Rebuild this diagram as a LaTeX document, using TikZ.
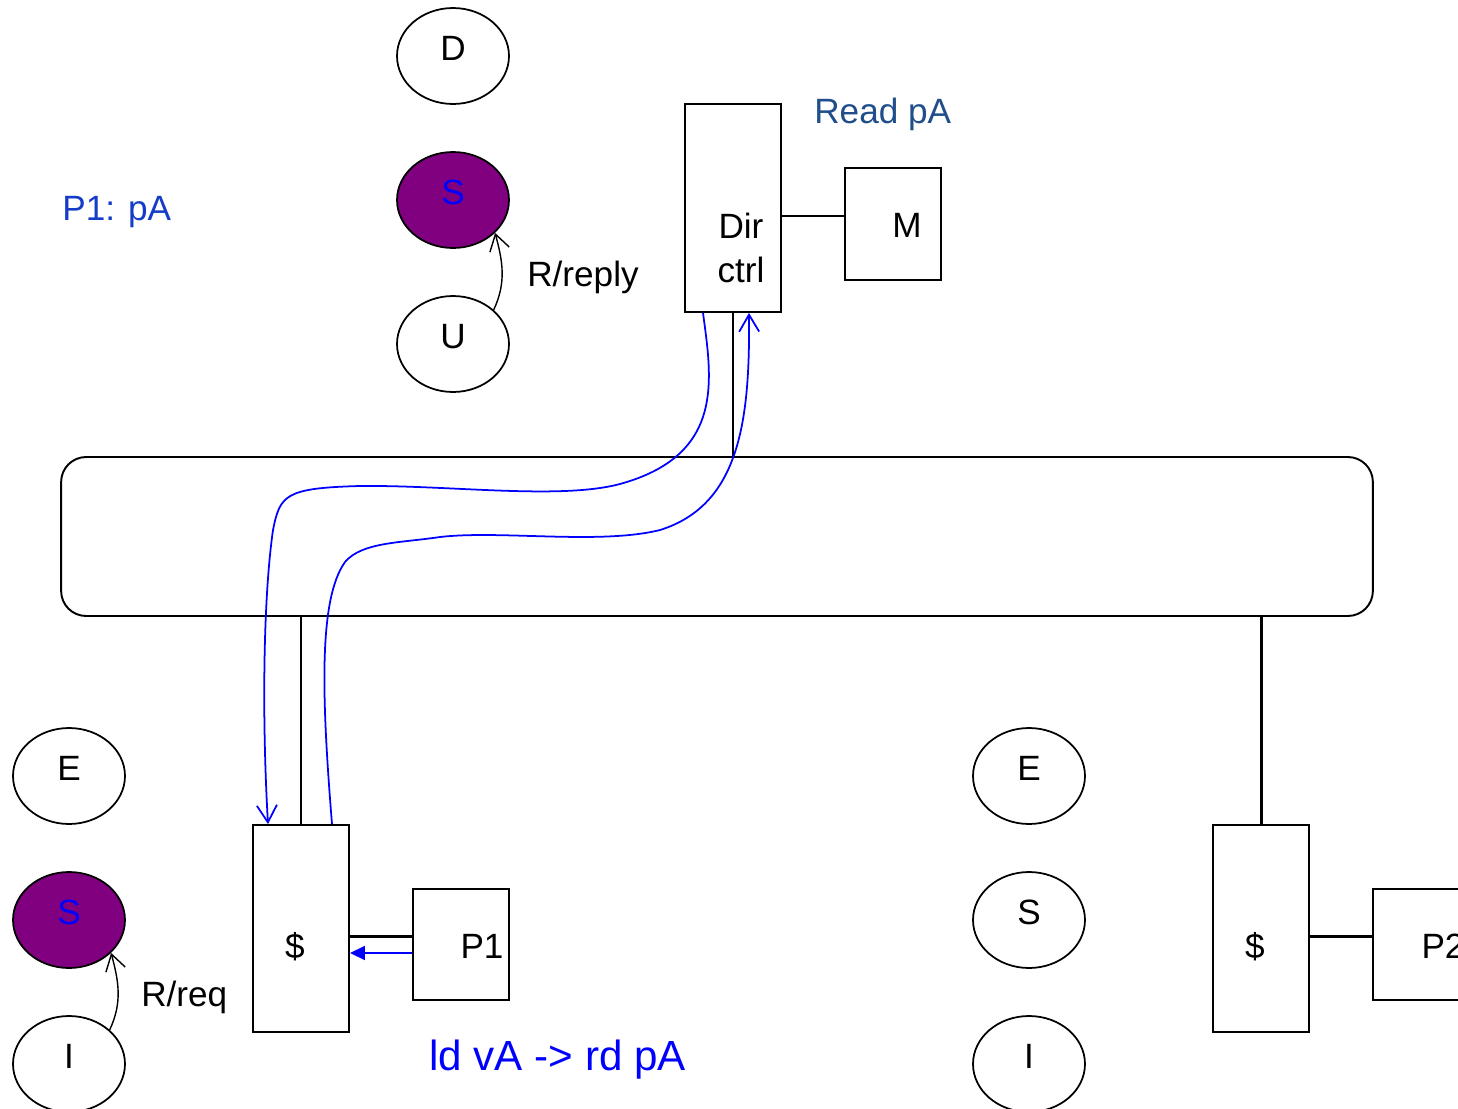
\documentclass[tikz,border=0pt]{standalone}
\usepackage{fontspec}
\setmainfont{Liberation Sans}
\usepackage{tikz}
\usetikzlibrary{positioning,arrows.meta,shapes.geometric,calc}
\usepackage{xcolor}
\definecolor{sharedpurple}{RGB}{128,0,128}
\definecolor{notenavy}{RGB}{31,78,138}
\definecolor{noteblue}{RGB}{20,60,200}

\begin{document}
\begin{tikzpicture}[x=0.02cm, y=-0.02cm,
    font=\fontsize{20}{25}\selectfont,
    state/.style={ellipse, draw, line width=1pt, minimum width=2.24cm, minimum height=1.92cm, inner sep=0pt, text depth=9pt},
    shared/.style={state, fill=sharedpurple, text=blue},
    unit/.style={rectangle, draw, line width=1.1pt, minimum width=1.92cm, inner sep=0pt},
    note/.style={anchor=base west, inner sep=0pt},
    wire/.style={line width=1.7pt},
    trans/.style={line width=0.8pt, -{Straight Barb[length=0.32cm,width=0.4cm]}},
    msg/.style={blue, line width=1pt, -{Straight Barb[length=0.34cm,width=0.4cm]}}]
    \clip (0,0) rectangle (1458,1109);

    % Directory states
    \node[state] (dirD) at (453,56) {D};
    \node[shared] (dirS) at (453,200) {S};
    \node[state] (dirU) at (453,344) {U};
    \draw[trans] (dirU.40) to[out=65,in=-75] (dirS.-38);
    \node[note] (replyLabel) at (527,286) {R/reply};

    % Cache states, P1 and P2
    \node[state] (leftE) at (69,776) {E};
    \node[shared] (leftS) at (69,920) {S};
    \node[state] (leftI) at (69,1064) {I};
    \draw[trans] (leftI.40) to[out=65,in=-75] (leftS.-38);
    \node[note] (reqLabel) at (141,1006) {R/req};
    \node[state] (rightE) at (1029,776) {E};
    \node[state] (rightS) at (1029,920) {S};
    \node[state] (rightI) at (1029,1064) {I};

    % Notes
    \node[note, text=noteblue] (p1Note) at (62,220) {P1: pA};
    \node[note, text=notenavy] (readNote) at (814,123) {Read pA};
    \node[note, text=blue, font=\fontsize{24}{28}\selectfont] (ldNote) at (429,1070) {ld vA -> rd pA};

    % Directory controller and memory
    \node[unit, minimum height=4.16cm] (dir) at (733,208) {};
    \node[align=center] (dirText) at (741,248) {Dir\\ctrl};
    \node[unit, minimum height=2.24cm] (mem) at (893,224) {};
    \node[anchor=base] (memText) at (907,237) {M};
    \draw[wire] ([yshift=0.16cm]mem.west) -- ([yshift=0.16cm]mem.west -| dir.east);

    % Interconnect
    \node[draw, line width=1.1pt, rounded corners=0.5cm, minimum width=26.24cm, minimum height=3.18cm] (bus) at (717,536.5) {};
    \draw[wire] (dir.south) -- (dir.south |- bus.north);

    % Caches and processors
    \node[unit, minimum height=4.14cm] (cacheA) at (301,928.5) {};
    \node[anchor=base] (cacheAText) at (295,958) {\$};
    \node[unit, minimum height=2.22cm] (procA) at (461,944.5) {};
    \node[anchor=base] (procAText) at (482,958) {P1};
    \node[unit, minimum height=4.14cm] (cacheB) at (1261,928.5) {};
    \node[anchor=base] (cacheBText) at (1255,958) {\$};
    \node[unit, minimum height=2.22cm] (procB) at (1421,944.5) {};
    \node[anchor=base] (procBText) at (1443,958) {P2};
    \draw[wire] (cacheA.north) -- (cacheA.north |- bus.south);
    \draw[wire] (cacheB.north) -- (cacheB.north |- bus.south);
    \draw[wire] ([yshift=0.17cm]procA.west) -- ([yshift=0.17cm]procA.west -| cacheA.east);
    \draw[wire] ([yshift=0.17cm]procB.west) -- ([yshift=0.17cm]procB.west -| cacheB.east);
    \draw[blue, line width=1pt, -{Triangle[length=0.3cm,width=0.28cm]}] ([yshift=-0.17cm]procA.west) -- ([yshift=-0.17cm]procA.west -| cacheA.east);

    % Request and reply messages
    \draw[msg] ([xshift=-0.6cm]dir.south) .. controls (712,380) and (725,455) .. (620,484)
        .. controls (560,500) and (450,485) .. (360,486)
        .. controls (285,488) and (280,495) .. (273,530)
        .. controls (263,600) and (262,720) .. ([xshift=-0.66cm]cacheA.north);
    \draw[msg] ([xshift=0.62cm]cacheA.north) .. controls (322,700) and (318,600) .. (345,562)
        .. controls (362,542) and (400,543) .. (440,537)
        .. controls (500,530) and (600,545) .. (660,530)
        .. controls (740,505) and (750,420) .. ([xshift=0.32cm]dir.south);
\end{tikzpicture}
\end{document}
